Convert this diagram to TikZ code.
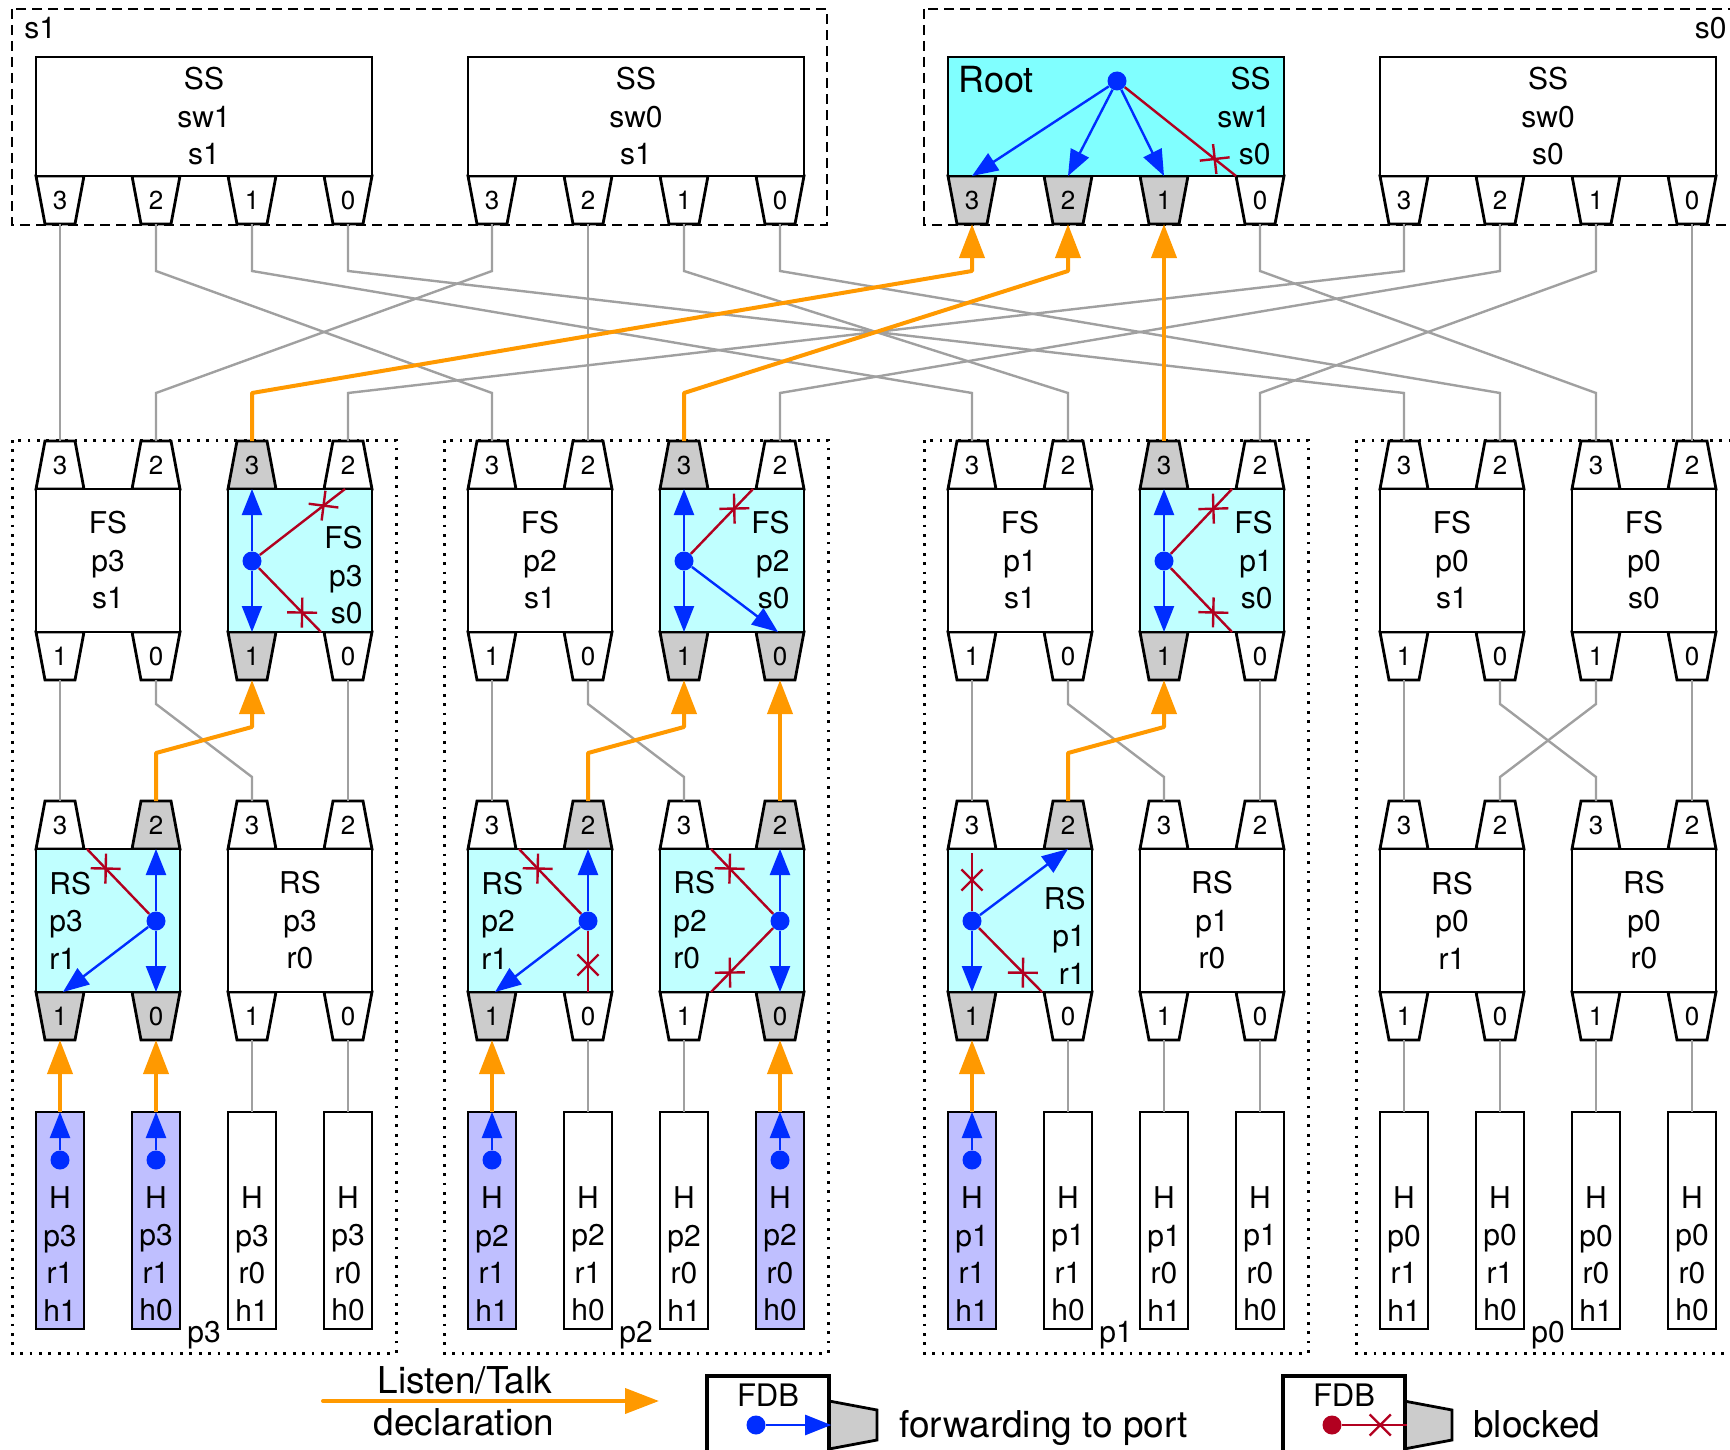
\documentclass[tikz,border=0pt]{standalone}
\usepackage{fontspec}
\setmainfont{TeX Gyre Heros}
\usetikzlibrary{arrows.meta,calc,decorations.markings}
\definecolor{wiregray}{RGB}{160,160,160}
\definecolor{portgray}{RGB}{204,204,204}
\definecolor{talkorange}{RGB}{255,153,0}
\definecolor{fdbblue}{RGB}{0,45,255}
\definecolor{fdbred}{RGB}{178,0,32}
\definecolor{rootcyan}{RGB}{128,255,255}
\definecolor{lightcyan}{RGB}{192,255,255}
\definecolor{hostblue}{RGB}{191,191,255}
\tikzset{
  box/.style={draw=black, line width=1.4pt, inner sep=0pt, outer sep=0pt},
  portln/.style={draw=black, line width=1.4pt},
  portnode/.style={inner sep=0pt, outer sep=0pt, minimum width=24pt, minimum height=24pt, font=\fontsize{13}{15}\selectfont},
  txt/.style={inner sep=0pt, align=center, font=\fontsize{15}{18.75}\selectfont},
  legtxt/.style={inner sep=0pt, font=\fontsize{18.5}{22}\selectfont},
  wire/.style={draw=wiregray, line width=1.2pt},
  talk/.style={color=talkorange, line width=2pt, line join=round, -{Triangle[length=17pt,width=12.5pt]}},
  fwd/.style={color=fdbblue, line width=1.2pt, -{Triangle[length=13pt,width=10pt]}},
  blk/.style={color=fdbred, line width=1.2pt, postaction={decorate},
    decoration={markings, mark=at position -13.5pt with {\draw[fdbred, line width=1.2pt] (-5.3pt,-5.3pt) -- (5.3pt,5.3pt) (-5.3pt,5.3pt) -- (5.3pt,-5.3pt);}}},
  dot/.style={circle, fill=fdbblue, inner sep=0pt, minimum size=9.5pt},
  reddot/.style={circle, fill=fdbred, inner sep=0pt, minimum size=9.5pt},
  grpdash/.style={draw=black, line width=1.3pt, dash pattern=on 5pt off 3pt},
  grpdot/.style={draw=black, line width=1.5pt, dash pattern=on 1.4pt off 3.3pt},
  legbox/.style={draw=black, line width=2.2pt, fill=white, inner sep=0pt, minimum width=61pt, minimum height=49pt},
}
\newcommand\portU[5]{%
  \draw[portln, fill=#4] (#2-24,#3) -- (#2+24,#3) -- (#2+15,#3-48) -- (#2-15,#3-48) -- cycle;
  \node[portnode] (#1) at (#2,#3-24) {#5};}
\newcommand\portD[5]{%
  \draw[portln, fill=#4] (#2-24,#3) -- (#2+24,#3) -- (#2+15,#3+48) -- (#2-15,#3+48) -- cycle;
  \node[portnode] (#1) at (#2,#3+24) {#5};}
\newcommand\swbox[8]{%
  \portU{#1-3}{#2-48}{#3-71.5}{#5}{3}%
  \portU{#1-2}{#2+48}{#3-71.5}{#6}{2}%
  \portD{#1-1}{#2-48}{#3+71.5}{#7}{1}%
  \portD{#1-0}{#2+48}{#3+71.5}{#8}{0}%
  \node[box, fill=#4, minimum width=72pt, minimum height=71.5pt] (#1) at (#2,#3) {};}
\newcommand\ssbox[7]{%
  \portD{#1-3}{#2-144}{176}{#4}{3}%
  \portD{#1-2}{#2-48}{176}{#5}{2}%
  \portD{#1-1}{#2+48}{176}{#6}{1}%
  \portD{#1-0}{#2+144}{176}{#7}{0}%
  \node[box, fill=#3, minimum width=168pt, minimum height=59.5pt] (#1) at (#2,116.5) {};}
\newcommand\hostbox[4]{%
  \node[box, fill=#3, minimum width=24pt, minimum height=108.5pt] (#1) at (#2,1220.5) {};
  \node[txt] (#1-t) at (#2,1254) {#4};}
\newcommand\sswire[2]{\draw[wire] (#1.south) -- ++(0,47) -- ($(#2.north)+(0,-48)$) -- (#2.north);}
\newcommand\fswire[2]{\draw[wire] (#1.south) -- ++(0,24) -- ($(#2.north)+(0,-24)$) -- (#2.north);}
\newcommand\talkup[2]{\draw[talk] (#1.north) -- ++(0,-48) -- ($(#2.south)+(0,47)$) -- (#2.south);}
\begin{document}
\begin{tikzpicture}[x=0.5pt,y=-0.5pt]
\useasboundingbox (0,0) rectangle (1730,1450);
\clip (0,0) rectangle (1730,1450);
% group frames
\draw[grpdash] (12,9) rectangle (827,225);
\draw[grpdash] (924,9) rectangle (1739,225);
\node[txt, anchor=base west] (lbls1) at (24,39) {s1};
\node[txt, anchor=base east] (lbls0) at (1727,39) {s0};
\foreach \o/\p in {0/p3,432/p2,912/p1,1344/p0} {
  \draw[grpdot] (12+\o,440) rectangle (396+\o,1353);
  \node[txt, anchor=base] (lbl\p) at (204+\o,1342) {\p};
}
% spine switches
\ssbox{ssA}{204}{white}{white}{white}{white}{white}
\ssbox{ssB}{636}{white}{white}{white}{white}{white}
\ssbox{ssC}{1116}{rootcyan}{portgray}{portgray}{portgray}{white}
\ssbox{ssD}{1548}{white}{white}{white}{white}{white}
\node[txt] (ssA-t) at (ssA) {SS\\sw1\\s1};
\node[txt] (ssB-t) at (ssB) {SS\\sw0\\s1};
\node[txt, align=right, anchor=east] (ssC-t) at (1271,116.5) {SS\\sw1\\s0};
\node[inner sep=0pt, anchor=base west, font=\fontsize{18}{21}\selectfont] (ssC-root) at (958,93) {Root};
\node[txt] (ssD-t) at (ssD) {SS\\sw0\\s0};
% fabric switches
\swbox{fsp3s1}{108}{560.5}{white}{white}{white}{white}{white}
\swbox{fsp3s0}{300}{560.5}{lightcyan}{portgray}{white}{portgray}{white}
\swbox{fsp2s1}{540}{560.5}{white}{white}{white}{white}{white}
\swbox{fsp2s0}{732}{560.5}{lightcyan}{portgray}{white}{portgray}{portgray}
\swbox{fsp1s1}{1020}{560.5}{white}{white}{white}{white}{white}
\swbox{fsp1s0}{1212}{560.5}{lightcyan}{portgray}{white}{portgray}{white}
\swbox{fsp0s1}{1452}{560.5}{white}{white}{white}{white}{white}
\swbox{fsp0s0}{1644}{560.5}{white}{white}{white}{white}{white}
\node[txt] (fsp3s1-t) at (fsp3s1) {FS\\p3\\s1};
\node[txt, align=right, anchor=east] (fsp3s0-t) at (363,575.5) {FS\\p3\\s0};
\node[txt] (fsp2s1-t) at (fsp2s1) {FS\\p2\\s1};
\node[txt, align=right, anchor=east] (fsp2s0-t) at (790,560.5) {FS\\p2\\s0};
\node[txt] (fsp1s1-t) at (fsp1s1) {FS\\p1\\s1};
\node[txt, align=right, anchor=east] (fsp1s0-t) at (1273,560.5) {FS\\p1\\s0};
\node[txt] (fsp0s1-t) at (fsp0s1) {FS\\p0\\s1};
\node[txt] (fsp0s0-t) at (fsp0s0) {FS\\p0\\s0};
% rack switches
\swbox{rsp3r1}{108}{920.5}{lightcyan}{white}{portgray}{portgray}{portgray}
\swbox{rsp3r0}{300}{920.5}{white}{white}{white}{white}{white}
\swbox{rsp2r1}{540}{920.5}{lightcyan}{white}{portgray}{portgray}{white}
\swbox{rsp2r0}{732}{920.5}{lightcyan}{white}{portgray}{white}{portgray}
\swbox{rsp1r1}{1020}{920.5}{lightcyan}{white}{portgray}{portgray}{white}
\swbox{rsp1r0}{1212}{920.5}{white}{white}{white}{white}{white}
\swbox{rsp0r1}{1452}{920.5}{white}{white}{white}{white}{white}
\swbox{rsp0r0}{1644}{920.5}{white}{white}{white}{white}{white}
\node[txt, align=left, anchor=west] (rsp3r1-t) at (49,920.5) {RS\\p3\\r1};
\node[txt] (rsp3r0-t) at (rsp3r0) {RS\\p3\\r0};
\node[txt, align=left, anchor=west] (rsp2r1-t) at (481,920.5) {RS\\p2\\r1};
\node[txt, align=left, anchor=west] (rsp2r0-t) at (673,920.5) {RS\\p2\\r0};
\node[txt, align=right, anchor=east] (rsp1r1-t) at (1086,935.5) {RS\\p1\\r1};
\node[txt] (rsp1r0-t) at (rsp1r0) {RS\\p1\\r0};
\node[txt] (rsp0r1-t) at (rsp0r1) {RS\\p0\\r1};
\node[txt] (rsp0r0-t) at (rsp0r0) {RS\\p0\\r0};
% hosts
\hostbox{hp3r1h1}{60}{hostblue}{H\\p3\\r1\\h1}
\hostbox{hp3r1h0}{156}{hostblue}{H\\p3\\r1\\h0}
\hostbox{hp3r0h1}{252}{white}{H\\p3\\r0\\h1}
\hostbox{hp3r0h0}{348}{white}{H\\p3\\r0\\h0}
\hostbox{hp2r1h1}{492}{hostblue}{H\\p2\\r1\\h1}
\hostbox{hp2r1h0}{588}{white}{H\\p2\\r1\\h0}
\hostbox{hp2r0h1}{684}{white}{H\\p2\\r0\\h1}
\hostbox{hp2r0h0}{780}{hostblue}{H\\p2\\r0\\h0}
\hostbox{hp1r1h1}{972}{hostblue}{H\\p1\\r1\\h1}
\hostbox{hp1r1h0}{1068}{white}{H\\p1\\r1\\h0}
\hostbox{hp1r0h1}{1164}{white}{H\\p1\\r0\\h1}
\hostbox{hp1r0h0}{1260}{white}{H\\p1\\r0\\h0}
\hostbox{hp0r1h1}{1404}{white}{H\\p0\\r1\\h1}
\hostbox{hp0r1h0}{1500}{white}{H\\p0\\r1\\h0}
\hostbox{hp0r0h1}{1596}{white}{H\\p0\\r0\\h1}
\hostbox{hp0r0h0}{1692}{white}{H\\p0\\r0\\h0}
% spine to fabric wires
\sswire{ssA-3}{fsp3s1-3}
\sswire{ssA-2}{fsp2s1-3}
\sswire{ssA-1}{fsp1s1-3}
\sswire{ssA-0}{fsp0s1-3}
\sswire{ssB-3}{fsp3s1-2}
\sswire{ssB-2}{fsp2s1-2}
\sswire{ssB-1}{fsp1s1-2}
\sswire{ssB-0}{fsp0s1-2}
\sswire{ssC-0}{fsp0s0-3}
\sswire{ssD-3}{fsp3s0-2}
\sswire{ssD-2}{fsp2s0-2}
\sswire{ssD-1}{fsp1s0-2}
\sswire{ssD-0}{fsp0s0-2}
% fabric to rack wires
\foreach \p in {p3,p2,p1,p0} {
  \fswire{fs\p s1-1}{rs\p r1-3}
  \fswire{fs\p s1-0}{rs\p r0-3}
}
\fswire{fsp3s0-0}{rsp3r0-2}
\fswire{fsp1s0-0}{rsp1r0-2}
\fswire{fsp0s0-0}{rsp0r0-2}
\fswire{fsp0s0-1}{rsp0r1-2}
% rack to host wires
\draw[wire] (rsp3r0-1.south) -- (hp3r0h1.north);
\draw[wire] (rsp3r0-0.south) -- (hp3r0h0.north);
\draw[wire] (rsp2r1-0.south) -- (hp2r1h0.north);
\draw[wire] (rsp2r0-1.south) -- (hp2r0h1.north);
\draw[wire] (rsp1r1-0.south) -- (hp1r1h0.north);
\draw[wire] (rsp1r0-1.south) -- (hp1r0h1.north);
\draw[wire] (rsp1r0-0.south) -- (hp1r0h0.north);
\draw[wire] (rsp0r1-1.south) -- (hp0r1h1.north);
\draw[wire] (rsp0r1-0.south) -- (hp0r1h0.north);
\draw[wire] (rsp0r0-1.south) -- (hp0r0h1.north);
\draw[wire] (rsp0r0-0.south) -- (hp0r0h0.north);
% talker / listener declarations
\talkup{fsp3s0-3}{ssC-3}
\talkup{fsp2s0-3}{ssC-2}
\talkup{fsp1s0-3}{ssC-1}
\talkup{rsp3r1-2}{fsp3s0-1}
\talkup{rsp2r1-2}{fsp2s0-1}
\talkup{rsp2r0-2}{fsp2s0-0}
\talkup{rsp1r1-2}{fsp1s0-1}
\draw[talk] (hp3r1h1.north) -- (rsp3r1-1.south);
\draw[talk] (hp3r1h0.north) -- (rsp3r1-0.south);
\draw[talk] (hp2r1h1.north) -- (rsp2r1-1.south);
\draw[talk] (hp2r0h0.north) -- (rsp2r0-0.south);
\draw[talk] (hp1r1h1.north) -- (rsp1r1-1.south);
% FDB: root
\node[dot] (ssC-d) at (1117,81) {};
\draw[fwd] (ssC-d) -- (ssC-3.north);
\draw[fwd] (ssC-d) -- (ssC-2.north);
\draw[fwd] (ssC-d) -- (ssC-1.north);
\draw[blk] (ssC-d) -- (ssC-0.north west);
% FDB: FS p3 s0
\node[dot] (fsp3s0-d) at (252,561) {};
\draw[fwd] (fsp3s0-d) -- (fsp3s0-3.south);
\draw[fwd] (fsp3s0-d) -- (fsp3s0-1.north);
\draw[blk] (fsp3s0-d) -- ($(fsp3s0-2.south)+(-3,0)$);
\draw[blk] (fsp3s0-d) -- ($(fsp3s0-0.north)+(-27,0)$);
% FDB: FS p2 s0
\node[dot] (fsp2s0-d) at (684,561) {};
\draw[fwd] (fsp2s0-d) -- (fsp2s0-3.south);
\draw[fwd] (fsp2s0-d) -- (fsp2s0-1.north);
\draw[fwd] (fsp2s0-d) -- ($(fsp2s0-0.north)+(-2,0)$);
\draw[blk] (fsp2s0-d) -- ($(fsp2s0-2.south)+(-27,0)$);
% FDB: FS p1 s0
\node[dot] (fsp1s0-d) at (1164,561) {};
\draw[fwd] (fsp1s0-d) -- (fsp1s0-3.south);
\draw[fwd] (fsp1s0-d) -- (fsp1s0-1.north);
\draw[blk] (fsp1s0-d) -- ($(fsp1s0-2.south)+(-28,0)$);
\draw[blk] (fsp1s0-d) -- ($(fsp1s0-0.north)+(-28,0)$);
% FDB: RS p3 r1
\node[dot] (rsp3r1-d) at (156,921) {};
\draw[fwd] (rsp3r1-d) -- (rsp3r1-2.south);
\draw[fwd] (rsp3r1-d) -- (rsp3r1-0.north);
\draw[fwd] (rsp3r1-d) -- ($(rsp3r1-1.north)+(3,0)$);
\draw[blk] (rsp3r1-d) -- ($(rsp3r1-3.south)+(27,0)$);
% FDB: RS p2 r1
\node[dot] (rsp2r1-d) at (588,921) {};
\draw[fwd] (rsp2r1-d) -- (rsp2r1-2.south);
\draw[fwd] (rsp2r1-d) -- ($(rsp2r1-1.north)+(3,0)$);
\draw[blk] (rsp2r1-d) -- ($(rsp2r1-3.south)+(27,0)$);
\draw[blk] (rsp2r1-d) -- (rsp2r1-0.north);
% FDB: RS p2 r0
\node[dot] (rsp2r0-d) at (780,921) {};
\draw[fwd] (rsp2r0-d) -- (rsp2r0-2.south);
\draw[fwd] (rsp2r0-d) -- (rsp2r0-0.north);
\draw[blk] (rsp2r0-d) -- ($(rsp2r0-3.south)+(27,0)$);
\draw[blk] (rsp2r0-d) -- ($(rsp2r0-1.north)+(27,0)$);
% FDB: RS p1 r1
\node[dot] (rsp1r1-d) at (972,921) {};
\draw[blk] (rsp1r1-d) -- ($(rsp1r1-3.south)+(0,4)$);
\draw[fwd] (rsp1r1-d) -- (rsp1r1-2.south);
\draw[fwd] (rsp1r1-d) -- (rsp1r1-1.north);
\draw[blk] (rsp1r1-d) -- ($(rsp1r1-0.north)+(-26,0)$);
% FDB: hosts
\foreach \h in {hp3r1h1,hp3r1h0,hp2r1h1,hp2r0h0,hp1r1h1} {
  \node[dot] (\h-d) at ($(\h.north)+(0,48)$) {};
  \draw[fwd] (\h-d) -- (\h.north);
}
% legend
\coordinate (lgA) at (323,1401);
\coordinate (lgB) at (659,1401);
\draw[talk, line cap=round] (lgA) -- (lgB);
\node[legtxt, anchor=base] (lgA-t1) at (465,1393) {Listen/Talk};
\node[legtxt, anchor=base] (lgA-t2) at (464,1435) {declaration};
\draw[portln, fill=portgray] (829,1401) -- (877,1410) -- (877,1440) -- (829,1449) -- cycle;
\node[legbox] (lg1) at (768,1425) {};
\node[txt, font=\fontsize{15.5}{18}\selectfont] (lg1-t) at (768,1395) {FDB};
\node[dot] (lg1-d) at (756,1425) {};
\draw[fwd] (lg1-d) -- (lg1.east);
\node[legtxt, anchor=base west] (lg1-l) at (899,1437) {forwarding to port};
\draw[portln, fill=portgray] (1404,1401) -- (1452,1410) -- (1452,1440) -- (1404,1449) -- cycle;
\node[legbox] (lg2) at (1344,1425) {};
\node[txt, font=\fontsize{15.5}{18}\selectfont] (lg2-t) at (1344,1395) {FDB};
\node[reddot] (lg2-d) at (1332,1425) {};
\draw[blk] (lg2-d) -- (lg2.east);
\node[legtxt, anchor=base west] (lg2-l) at (1473,1437) {blocked};
\end{tikzpicture}
\end{document}
